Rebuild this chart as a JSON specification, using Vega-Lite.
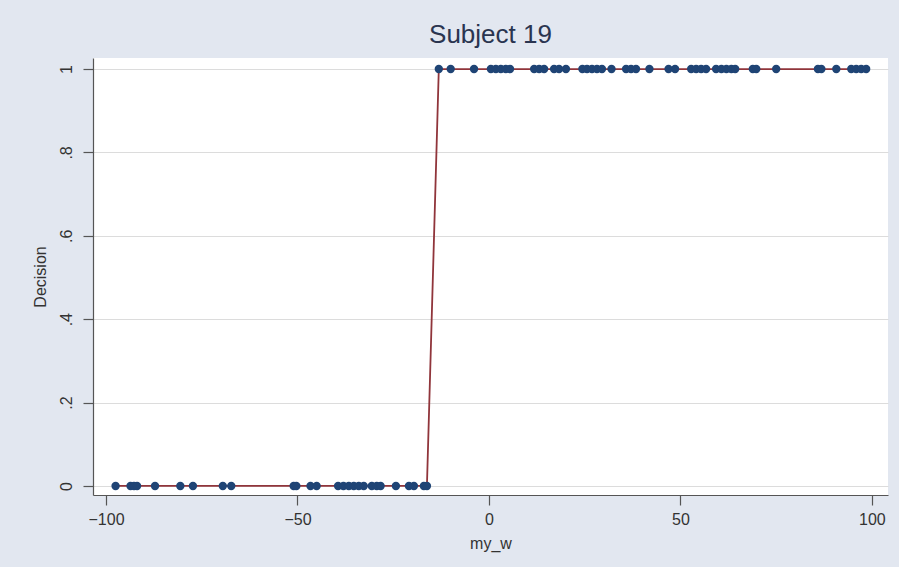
{
  "$schema": "https://vega.github.io/schema/vega-lite/v6.json",
  "autosize": "none",
  "width": 795,
  "height": 437,
  "padding": {"left": 93, "top": 58, "right": 11, "bottom": 72},
  "background": "#E2E7F0",
  "title": {"text": "Subject 19", "font": "Liberation Sans", "fontSize": 26, "fontWeight": "normal", "color": "#2A3550", "anchor": "middle", "offset": 10},
  "config": {
    "view": {"fill": "white", "stroke": null},
    "axis": {"labelFont": "Liberation Sans", "titleFont": "Liberation Sans", "labelFontSize": 16, "titleFontSize": 16, "titleFontWeight": "normal", "labelColor": "#333333", "titleColor": "#333333", "domainColor": "#555555", "tickColor": "#555555", "tickSize": 10, "domainWidth": 1.2, "tickWidth": 1.2}
  },
  "data": {"values": [
    {"w": -97.5, "d": 0}, {"w": -93.6, "d": 0}, {"w": -92.7, "d": 0}, {"w": -91.9, "d": 0}, {"w": -87.2, "d": 0},
    {"w": -80.6, "d": 0}, {"w": -77.3, "d": 0}, {"w": -69.5, "d": 0}, {"w": -67.3, "d": 0}, {"w": -51.0, "d": 0},
    {"w": -50.3, "d": 0}, {"w": -46.6, "d": 0}, {"w": -45.0, "d": 0}, {"w": -39.4, "d": 0}, {"w": -38.0, "d": 0},
    {"w": -36.6, "d": 0}, {"w": -35.3, "d": 0}, {"w": -34.0, "d": 0}, {"w": -32.7, "d": 0}, {"w": -30.6, "d": 0},
    {"w": -29.3, "d": 0}, {"w": -28.3, "d": 0}, {"w": -24.3, "d": 0}, {"w": -20.9, "d": 0}, {"w": -19.6, "d": 0},
    {"w": -17.0, "d": 0}, {"w": -16.2, "d": 0},
    {"w": -13.1, "d": 1}, {"w": -10.0, "d": 1}, {"w": -3.9, "d": 1}, {"w": 0.5, "d": 1}, {"w": 1.8, "d": 1},
    {"w": 3.1, "d": 1}, {"w": 4.4, "d": 1}, {"w": 5.5, "d": 1}, {"w": 11.8, "d": 1}, {"w": 13.1, "d": 1},
    {"w": 14.4, "d": 1}, {"w": 17.0, "d": 1}, {"w": 18.3, "d": 1}, {"w": 20.1, "d": 1}, {"w": 24.4, "d": 1},
    {"w": 25.6, "d": 1}, {"w": 26.9, "d": 1}, {"w": 28.2, "d": 1}, {"w": 29.5, "d": 1}, {"w": 32.0, "d": 1},
    {"w": 35.8, "d": 1}, {"w": 37.1, "d": 1}, {"w": 38.4, "d": 1}, {"w": 41.9, "d": 1}, {"w": 46.9, "d": 1},
    {"w": 48.6, "d": 1}, {"w": 52.8, "d": 1}, {"w": 54.1, "d": 1}, {"w": 55.4, "d": 1}, {"w": 56.7, "d": 1},
    {"w": 59.3, "d": 1}, {"w": 60.7, "d": 1}, {"w": 62.0, "d": 1}, {"w": 63.3, "d": 1}, {"w": 64.3, "d": 1},
    {"w": 68.9, "d": 1}, {"w": 69.8, "d": 1}, {"w": 75.0, "d": 1}, {"w": 85.9, "d": 1}, {"w": 86.8, "d": 1},
    {"w": 90.7, "d": 1}, {"w": 94.6, "d": 1}, {"w": 95.9, "d": 1}, {"w": 97.2, "d": 1}, {"w": 98.5, "d": 1}
  ]},
  "encoding": {
    "x": {"field": "w", "type": "quantitative", "title": "my_w",
      "scale": {"domain": [-103.4, 104.2], "nice": false, "zero": false},
      "axis": {"values": [-100, -50, 0, 50, 100], "grid": false, "labelPadding": 6, "titlePadding": 8}},
    "y": {"field": "d", "type": "quantitative", "title": "Decision",
      "scale": {"domain": [-0.0217, 1.0265], "nice": false, "zero": false},
      "axis": {"values": [0, 0.2, 0.4, 0.6, 0.8, 1], "labelAngle": -90, "labelAlign": "center", "labelBaseline": "bottom", "labelPadding": 9,
        "labelExpr": "datum.value < 0.01 ? '0' : datum.value > 0.99 ? '1' : '.' + format(datum.value * 10, '.0f')",
        "grid": true, "gridColor": "#DCDCDC", "gridWidth": 1.2, "titlePadding": 10}}
  },
  "layer": [
    {"mark": {"type": "line", "color": "#90353B", "strokeWidth": 1.8}, "encoding": {"order": {"field": "w", "type": "quantitative"}}},
    {"mark": {"type": "point", "filled": true, "shape": "circle", "size": 70, "color": "#1F4475", "opacity": 1}}
  ]
}
